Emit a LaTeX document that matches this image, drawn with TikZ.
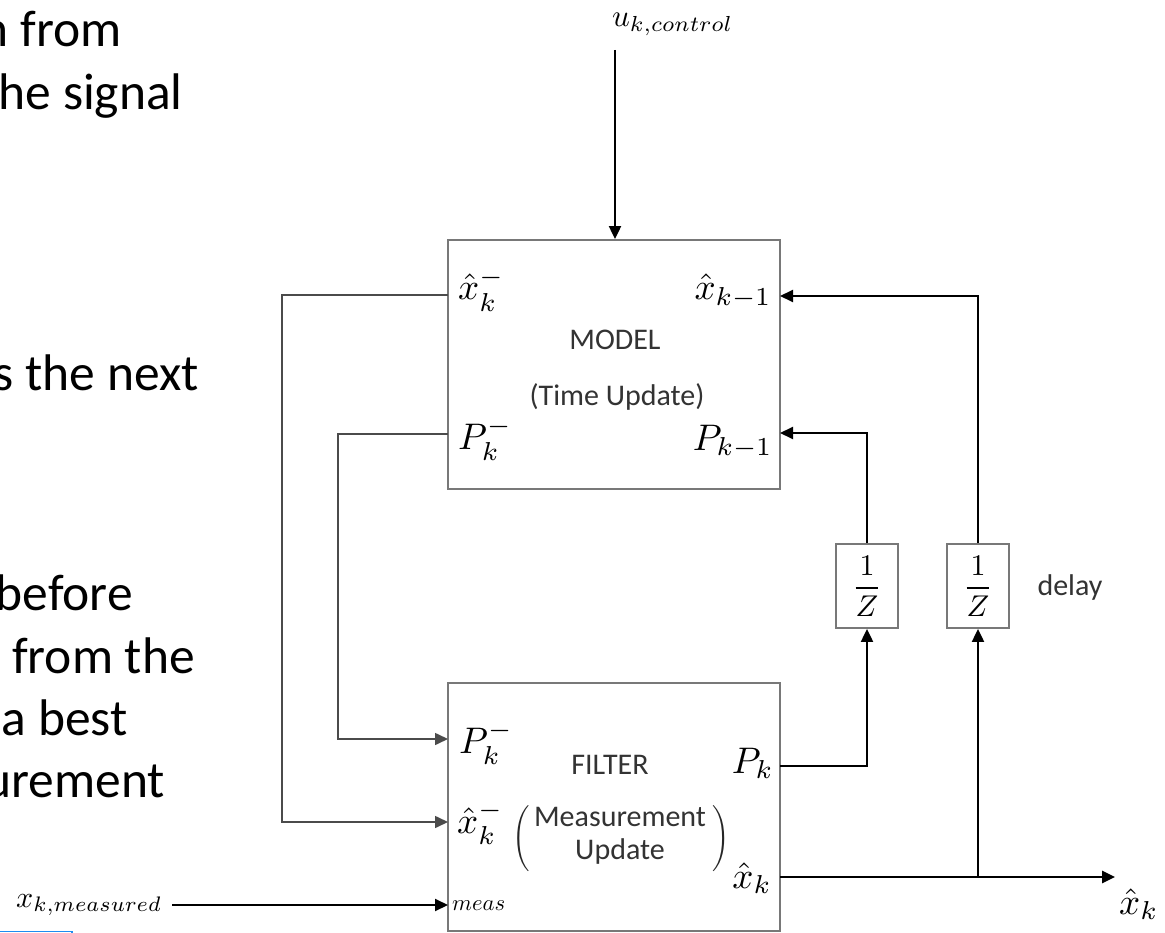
\documentclass[tikz,border=0pt]{standalone}
\usepackage{fontspec}
\setmainfont{Carlito}
\usetikzlibrary{arrows.meta}

% math labels are set at 10pt and scaled up
\newcommand\portmath[1]{\scalebox{3.7}{$#1$}}
\newcommand\delayfrac{\scalebox{3.0}{$\displaystyle\frac{1}{Z}$}}

\definecolor{boxgray}{RGB}{120,120,120}
\definecolor{wiregray}{RGB}{75,75,75}
\definecolor{selblue}{RGB}{30,140,240}

\tikzset{
  blockbox/.style={draw=boxgray, line width=1.8pt, inner sep=0pt},
  delaybox/.style={blockbox, minimum width=62pt, minimum height=84pt},
  wire/.style={draw=wiregray, line width=1.6pt},
  flow/.style={draw=black, line width=2pt},
  tip/.style={-{Triangle[length=13pt,width=12pt]}},
  caption/.style={font=\fontsize{30}{33}\selectfont, text=black!80, inner sep=0pt},
  port/.style={inner sep=0pt},
  bodytext/.style={font=\fontsize{51.5}{62}\selectfont, inner sep=0pt, anchor=base east},
}

\begin{document}
\begin{tikzpicture}[x=1pt,y=-1pt]
\useasboundingbox (0,0) rectangle (1165,933);
\clip (0,0) rectangle (1165,933);

% running text of the page beside the diagram
\node[bodytext] (t1) at (122,47)  {n from};
\node[bodytext] (t2) at (183,110) {he signal};
\node[bodytext] (t3) at (199,390) {s the next};
\node[bodytext] (t4) at (133,610) {before};
\node[bodytext] (t5) at (195,673) {from the};
\node[bodytext] (t6) at (128,735) {a best};
\node[bodytext] (t7) at (165,797) {urement};

% blocks
\node[blockbox, minimum width=332pt, minimum height=249pt] (model) at (614,364.5) {};
\node[blockbox, minimum width=332pt, minimum height=248pt] (filter) at (614,807) {};
\node[delaybox] (d1) at (867,586) {\delayfrac};
\node[delaybox] (d2) at (978,586) {\delayfrac};

% block captions
\node[caption] (cmodel) at (615,340) {MODEL};
\node[caption] (ctime) at (617,397) {(Time Update)};
\node[caption] (cfilter) at (610,765) {FILTER};
\node[caption] (cmeas) at (620,836)
  {\begin{tabular}{@{}c@{}}Measurement\\ Update\end{tabular}};
\node[inner sep=0pt, text=black!85] (lpar) at (521,839) {\scalebox{2.2}{$\Biggl($}};
\node[inner sep=0pt, text=black!85] (rpar) at (721,839) {\scalebox{2.2}{$\Biggr)$}};
\node[caption] (cdelay) at (1070,587) {delay};

% port labels
\node[port, anchor=base west] (lmxm)  at (458,300) {\portmath{\hat{x}_k^-}};
\node[port, anchor=base east] (lmxk1) at (772,300) {\portmath{\hat{x}_{k-1}}};
\node[port, anchor=base west] (lmpm)  at (458,449) {\portmath{P_k^-}};
\node[port, anchor=base east] (lmpk1) at (773,450) {\portmath{P_{k-1}}};
\node[port, anchor=base west] (lfpm)  at (459,753) {\portmath{P_k^-}};
\node[port, anchor=base west] (lfxm)  at (457,833) {\portmath{\hat{x}_k^-}};
\node[port, anchor=base east] (lfpk)  at (774,773) {\portmath{P_k}};
\node[port, anchor=base east] (lfxk)  at (772,888) {\portmath{\hat{x}_k}};
\node[port, anchor=base west] (lfmeas) at (452,910) {\resizebox{53pt}{!}{$meas$}};

% external signals
\node[port, anchor=base west] (uctl) at (612,27) {\resizebox{121pt}{!}{$u_{k,control}$}};
\node[port, anchor=base west] (xmeas) at (16,907) {\resizebox{146pt}{!}{$x_{k,measured}$}};
\node[port, anchor=base west] (xhat) at (1119,914) {\portmath{\hat{x}_k}};

% connection points on the block edges
\coordinate (uin)   at (615,50);
\coordinate (mxm)   at (448,295);
\coordinate (mpm)   at (448,434);
\coordinate (mxk1)  at (780,296);
\coordinate (mpk1)  at (780,433);
\coordinate (fpm)   at (448,739);
\coordinate (fxm)   at (448,822);
\coordinate (fmeas) at (448,905);
\coordinate (fpk)   at (780,766);
\coordinate (fxk)   at (780,877);
\coordinate (xout)  at (1115,877);

% connectors
\draw[flow,tip] (uin) -- (uin |- model.north);
\draw[wire,tip] (mxm) -- ++(-166,0) |- (fxm);
\draw[wire,tip] (mpm) -- ++(-110,0) |- (fpm);
\draw[flow,tip] (d1.north) |- (mpk1);
\draw[flow,tip] (d2.north) |- (mxk1);
\draw[flow,tip] (fpk) -| (d1.south);
\draw[flow,line width=2.6pt,tip] (fxk) -- (xout);
\draw[flow,tip] (d2.south |- fxk) -- (d2.south);
\draw[flow,tip] ([xshift=10pt]xmeas.east |- fmeas) -- (fmeas);

% selection frame edge at the lower left
\draw[selblue, line width=1.5pt] (0,931.5) -- (72,931.5) -- (72,934);
\end{tikzpicture}
\end{document}
